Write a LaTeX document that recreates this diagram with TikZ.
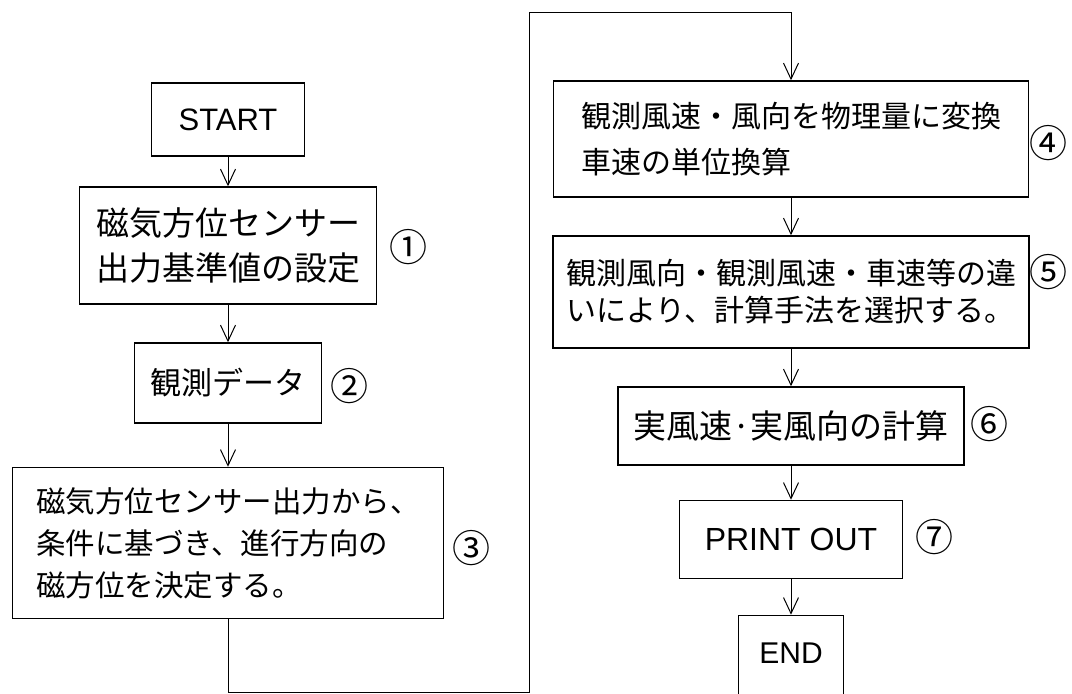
\documentclass[tikz,border=0pt]{standalone}
\usepackage{fontspec}
\setmainfont{Noto Sans CJK JP}
\newfontfamily\latinfont{Liberation Sans}
\usetikzlibrary{arrows.meta}

\tikzset{
  stepbox/.style={draw, line width=1.5pt, inner xsep=0pt, inner ysep=0pt, align=left},
  tag/.style={inner sep=0pt, font=\fontsize{38pt}{38pt}\selectfont},
}

\begin{document}
\begin{tikzpicture}[x=1pt, y=-1pt, line width=1pt, >={Straight Barb[length=16pt,width=15pt]}]
  \useasboundingbox (0,0) rectangle (1072,694);

  \node [stepbox, minimum width=153, minimum height=73, font=\latinfont\fontsize{31pt}{31pt}\selectfont] (start) at (228,119.5) {START};
  \node [stepbox, minimum width=297, minimum height=117, font=\fontsize{33pt}{45pt}\selectfont] (s1) at (228,245.5) {磁気方位センサー\\出力基準値の設定};
  \node [stepbox, minimum width=187, minimum height=80, font=\fontsize{31pt}{31pt}\selectfont] (s2) at (228,383) {観測データ};
  \node [stepbox, minimum width=431, minimum height=151, font=\fontsize{29.5pt}{42pt}\selectfont] (s3) at (228,543) {磁気方位センサー出力から、\\条件に基づき、進行方向の\\磁方位を決定する。};

  \node [stepbox, minimum width=475, minimum height=116, font=\fontsize{30pt}{46pt}\selectfont] (s4) at (791,139) {観測風速・風向を物理量に変換\\車速の単位換算};
  \node [stepbox, minimum width=476, minimum height=112, font=\fontsize{30pt}{37pt}\selectfont] (s5) at (791,292) {観測風向・観測風速・車速等の違\\いにより、計算手法を選択する。};
  \node [stepbox, minimum width=346, minimum height=78, font=\fontsize{33pt}{33pt}\selectfont] (s6) at (791,426) {実風速·実風向の計算};
  \node [stepbox, minimum width=223, minimum height=78, font=\latinfont\fontsize{32pt}{32pt}\selectfont] (s7) at (791,539.5) {PRINT OUT};
  \node [stepbox, minimum width=105, anchor=north, text height=48, text depth=42, font=\latinfont\fontsize{30pt}{30pt}\selectfont] (end) at (791,614.7) {END};

  \node [tag] (n1) at (408,247) {①};
  \node [tag] (n2) at (349,386) {②};
  \node [tag] (n3) at (471,548) {③};
  \node [tag] (n4) at (1048,143) {④};
  \node [tag] (n5) at (1048,272) {⑤};
  \node [tag] (n6) at (989,424) {⑥};
  \node [tag] (n7) at (934,537) {⑦};

  \coordinate (bl) at (228,692);
  \coordinate (tr) at (529,12);

  \draw [->] (start) -- (s1);
  \draw [->] (s1) -- (s2);
  \draw [->] (s2) -- (s3);
  \draw [->] (s3) -- (bl) -| (tr) -| (s4);
  \draw [->] (s4) -- (s5);
  \draw [->] (s5) -- (s6);
  \draw [->] (s6) -- (s7);
  \draw [->] (s7) -- (end);
\end{tikzpicture}
\end{document}
